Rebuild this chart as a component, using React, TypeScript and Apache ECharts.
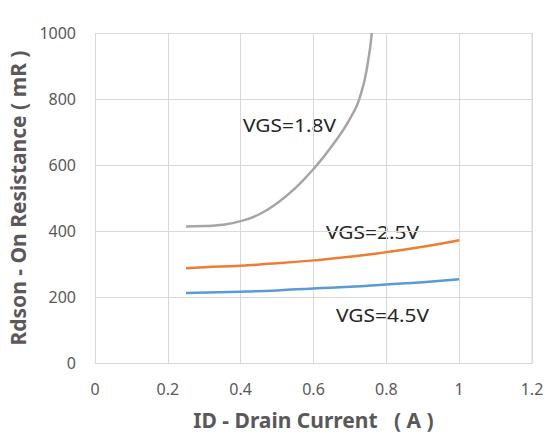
import React, { useEffect, useRef } from "react";
import * as echarts from "echarts";

const xTicks = [0, 0.2, 0.4, 0.6, 0.8, 1, 1.2];
const vgs18: [number, number][] = [
  [0.25, 414], [0.3, 415], [0.35, 419], [0.4, 430], [0.45, 450], [0.5, 484],
  [0.55, 530], [0.6, 588], [0.65, 657], [0.7, 740], [0.73, 815], [0.75, 915], [0.76, 1000],
];
const vgs25: [number, number][] = [
  [0.25, 287], [0.3, 290], [0.4, 295], [0.5, 302], [0.6, 311], [0.7, 322],
  [0.8, 336], [0.9, 352], [1.0, 372],
];
const vgs45: [number, number][] = [
  [0.25, 212], [0.4, 216], [0.5, 220], [0.6, 226], [0.7, 231], [0.8, 238],
  [0.9, 245], [1.0, 254],
];
const seriesNames = ["VGS=1.8V", "VGS=2.5V", "VGS=4.5V"];
const colors = ["#A5A5A5", "#ED7D31", "#5B9BD5"];

export default function App() {
  const ref = useRef<HTMLDivElement>(null);
  useEffect(() => {
    if (!ref.current) return;
    const chart = echarts.init(ref.current, null, { renderer: "svg" });
    const font = "'Noto Sans', 'Open Sans', sans-serif";
    const datasets = [vgs18, vgs25, vgs45];
    const label = (i: number, x: number, y: number) => ({
      type: "text",
      x,
      y,
      scaleX: 1.1,
      style: {
        text: seriesNames[i],
        fill: "#262626",
        fontSize: 19,
        fontFamily: font,
        textVerticalAlign: "middle",
      },
    });
    chart.setOption({
      animation: false,
      grid: { left: 95, right: 13, top: 33, bottom: 74, outerBoundsMode: "none", containLabel: false },
      xAxis: {
        type: "value",
        min: 0,
        max: 1.2,
        interval: 0.2,
        name: "ID - Drain Current   ( A )",
        nameLocation: "middle",
        nameGap: 46,
        nameTextStyle: { color: "#595959", fontSize: 21, fontWeight: "bold", fontFamily: font },
        axisLine: { show: true, lineStyle: { color: "#D9D9D9", width: 1 } },
        axisTick: { show: false },
        splitLine: { show: true, lineStyle: { color: "#D9D9D9", width: 1 } },
        axisLabel: {
          color: "#595959",
          fontSize: 16,
          fontFamily: font,
          margin: 18,
          formatter: (v: number) => {
            const t = xTicks.find((k) => Math.abs(k - v) < 1e-6);
            return t === undefined ? "" : String(t);
          },
        },
      },
      yAxis: {
        type: "value",
        min: 0,
        max: 1000,
        interval: 200,
        name: "Rdson - On Resistance ( mR )",
        nameLocation: "middle",
        nameGap: 66,
        nameTextStyle: { color: "#595959", fontSize: 21, fontWeight: "bold", fontFamily: font },
        axisLine: { show: false },
        axisTick: { show: false },
        splitLine: { show: true, lineStyle: { color: "#D9D9D9", width: 1 } },
        axisLabel: {
          color: "#595959",
          fontSize: 16,
          fontFamily: font,
          margin: 19,
          formatter: (v: number) => String(v),
        },
      },
      series: datasets.map((d, i) => ({
        name: seriesNames[i],
        type: "line",
        data: d,
        smooth: true,
        showSymbol: false,
        clip: true,
        lineStyle: { color: colors[i], width: 2.5 },
        z: 3 - i,
      })),
      graphic: [
        { type: "line", shape: { x1: 532, y1: 33, x2: 532, y2: 363 }, style: { stroke: "#D9D9D9", lineWidth: 1 } },
        label(0, 243, 125),
        label(1, 326, 232),
        label(2, 336, 315),
      ],
    });
    return () => chart.dispose();
  }, []);
  return (
    <div
      ref={ref}
      style={{ position: "fixed", left: 0, top: 0, width: 545, height: 437, background: "#fff" }}
    />
  );
}
